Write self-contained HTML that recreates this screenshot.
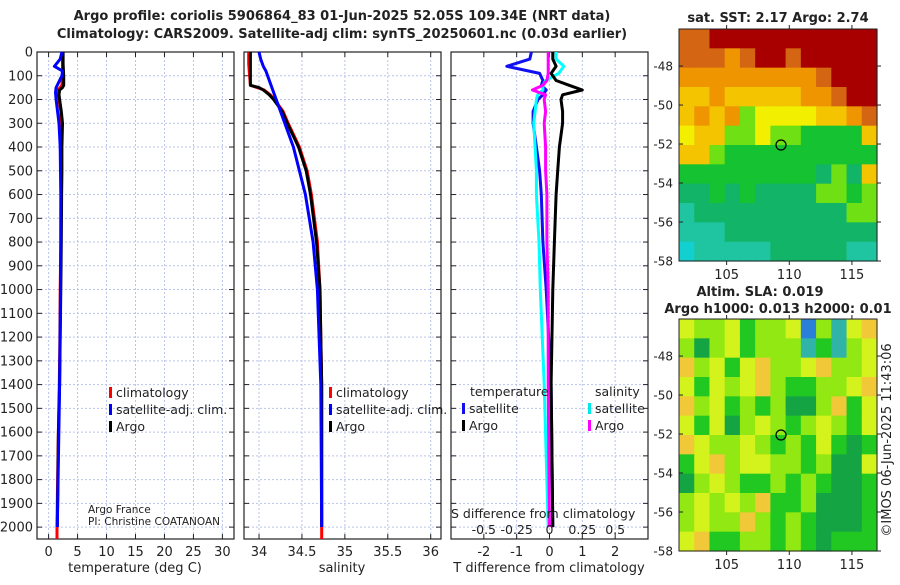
<!DOCTYPE html>
<html><head><meta charset="utf-8"><style>
body{margin:0;background:#fff;width:900px;height:580px;overflow:hidden}
svg{font-family:"DejaVu Sans","Liberation Sans",sans-serif}
text{fill:#222}
</style></head><body>
<svg id="s" width="900" height="580" viewBox="0 0 900 580">
<g id="g"></g>
</svg>
<script>
// ---- data ----
const depthTicks=[0,100,200,300,400,500,600,700,800,900,1000,1100,1200,1300,1400,1500,1600,1700,1800,1900,2000];
const tempTicks=[0,5,10,15,20,25,30];
const salTicks=[34,34.5,35,35.5,36];
const tdiffTicks=[-2,-1,0,1,2];
const sdiffTicks=[-0.5,-0.25,0,0.25,0.5];
const profDepth=[0,50,100,140,150,160,180,200,250,300,400,500,600,800,1000,1200,1400,1600,1800,2000];
const tempArgo=[2.5,2.5,2.6,2.6,2.4,1.9,1.8,1.9,2.2,2.4,2.3,2.3,2.25,2.2,2.1,2.0,1.9,1.7,1.6,1.5];
const tempClim=[2.4,2.4,2.4,2.3,2.0,1.6,1.6,1.8,2.1,2.2,2.2,2.2,2.15,2.1,2.0,1.95,1.85,1.7,1.55,1.45];
const satDepth=[0,30,60,80,100,150,170,200,300,400,600,800,1000,1400,2000];
const tempSat=[2.3,2.0,1.0,2.4,2.3,1.3,1.2,1.3,1.8,2.0,2.1,2.1,2.05,1.9,1.5];
const salArgo=[33.9,33.9,33.9,33.9,34.0,34.05,34.12,34.17,34.27,34.33,34.46,34.55,34.6,34.67,34.71,34.72,34.73,34.73,34.73,34.73];
const salClim=[33.88,33.88,33.89,33.9,33.98,34.06,34.13,34.18,34.28,34.34,34.47,34.56,34.61,34.68,34.71,34.72,34.73,34.73,34.73,34.73];
const salSat=[34.0,34.02,34.05,34.08,34.1,34.15,34.17,34.2,34.3,34.4,34.54,34.63,34.68,34.72,34.73];
const diffDepth=[0,30,60,90,120,140,160,180,200,250,300,400,500,600,800,1000,1400,2000];
const tdArgo=[0.1,0.1,0.2,0.05,0.2,0.6,1.0,0.4,0.35,0.4,0.4,0.3,0.25,0.2,0.15,0.1,0.05,0.1];
const tdSat=[-0.55,-0.6,-1.3,-0.3,-0.2,-0.25,-0.1,-0.2,-0.35,-0.5,-0.5,-0.4,-0.3,-0.25,-0.2,-0.1,0.05,0.1];
const sdSat=[0.05,0.05,0.11,0.07,-0.03,-0.05,-0.05,-0.09,-0.1,-0.11,-0.12,-0.11,-0.1,-0.1,-0.08,-0.07,-0.04,-0.01];
const sdArgo=[-0.01,-0.01,-0.01,-0.01,-0.02,-0.05,-0.13,-0.03,-0.04,-0.03,-0.04,-0.03,-0.03,-0.02,-0.02,-0.01,-0.01,0];
const latTicks=[-48,-50,-52,-54,-56,-58];
const lonTicks=[105,110,115];
const argoLat=-52.05, argoLon=109.34;
const sstPalette=['#12d0cf','#1fc4a0','#12b468','#14c232','#6ee014','#f2f000','#f4c400','#ef9500','#d46512','#a80000'];
const sstGrid=[
[8,8,9,9,9,9,9,9,9,9,9,9,9],
[8,8,8,7,8,9,9,8,9,9,9,9,9],
[7,7,7,7,7,7,7,7,7,8,9,9,9],
[6,6,7,6,6,6,6,6,7,7,8,9,9],
[6,7,6,7,4,5,5,5,5,6,6,7,8],
[5,6,6,4,4,5,4,4,3,3,3,3,6],
[6,6,4,3,3,3,3,3,3,3,3,3,3],
[3,3,3,3,3,3,3,3,3,2,4,2,6],
[2,2,3,2,3,2,2,2,2,4,4,3,4],
[1,2,2,2,2,2,2,2,2,2,2,4,4],
[1,1,1,2,2,2,2,2,2,2,2,2,2],
[0,1,1,1,1,1,2,2,2,2,2,1,1]];
const slaPalette=['#2a80d8','#30b4a8','#14a444','#22c822','#92e812','#d4f21c','#f0c838'];
const slaGrid=[
[5,4,4,5,3,4,4,5,0,4,1,5,6],
[4,2,4,5,3,4,4,4,1,3,1,4,5],
[6,4,5,3,5,6,4,4,5,6,4,4,5],
[5,3,5,4,5,6,4,3,3,4,4,5,6],
[6,4,5,3,4,3,4,2,2,4,6,3,5],
[5,3,5,2,4,5,4,3,4,5,4,3,5],
[6,5,4,4,5,4,3,4,3,5,3,2,3],
[3,5,6,4,5,5,4,4,3,4,2,2,5],
[2,4,5,4,3,3,4,3,4,3,2,2,3],
[4,5,4,5,4,6,3,3,4,2,2,2,3],
[4,5,4,4,6,4,3,4,3,2,2,2,3],
[5,6,3,3,4,4,3,4,3,2,3,3,3]];

// ---- helpers ----
const NS='http://www.w3.org/2000/svg';
const G=document.getElementById('g');
function el(t,a,p){const e=document.createElementNS(NS,t);for(const k in a)e.setAttribute(k,a[k]);(p||G).appendChild(e);return e;}
function txt(x,y,s,a){const e=el('text',Object.assign({x:x,y:y,'font-size':12},a||{}));e.textContent=s;return e;}
const Y0=52,Y1=539,D1=2050;
const yD=d=>Y0+d*(Y1-Y0)/D1;
function lin(d0,d1,p0,p1){return v=>p0+(v-d0)*(p1-p0)/(d1-d0);}
const panels=[{x0:37,x1:234,lo:-2,hi:32},{x0:244,x1:441,lo:33.825,hi:36.12},{x0:451,x1:648,lo:-3,hi:3}];
panels.forEach(p=>p.sx=lin(p.lo,p.hi,p.x0,p.x1));
const sdx=v=>panels[2].sx(v*4);

function frame(p,i,ticksX,labelLeft){
  const g=el('g',{});
  
  
  depthTicks.forEach(d=>{el('line',{x1:p.x0,x2:p.x1,y1:yD(d),y2:yD(d),stroke:'#b9c4ea','stroke-dasharray':'2,2','stroke-width':1},g);
    el('line',{x1:p.x0,x2:p.x0+5,y1:yD(d),y2:yD(d),stroke:'#222'},g);el('line',{x1:p.x1-5,x2:p.x1,y1:yD(d),y2:yD(d),stroke:'#222'},g);
    if(labelLeft){const t=txt(33,yD(d)+4.5,String(d),{'text-anchor':'end','font-size':13});}});
  ticksX.forEach(v=>{const x=p.sx(v);el('line',{x1:x,x2:x,y1:Y0,y2:Y1,stroke:'#b9c4ea','stroke-dasharray':'2,2'},g);
    el('line',{x1:x,x2:x,y1:Y1,y2:Y1-5,stroke:'#222'},g);el('line',{x1:x,x2:x,y1:Y0,y2:Y0+5,stroke:'#222'},g);
    const t=txt(x,556,String(v),{'text-anchor':'middle','font-size':13});});
  el('rect',{x:p.x0,y:Y0,width:p.x1-p.x0,height:Y1-Y0,fill:'none',stroke:'#222','stroke-width':1.2},g);
  return g;
}
frame(panels[0],0,tempTicks,true);
frame(panels[1],1,salTicks,false);
frame(panels[2],2,tdiffTicks,false);

function line(xs,ds,sx,col,name,w){
  const pts=xs.map((v,i)=>sx(v).toFixed(1)+','+yD(ds[i]).toFixed(1)).join(' ');
  const e=el('polyline',{points:pts,fill:'none',stroke:col,'stroke-width':w||3,'stroke-linejoin':'round'});
  
  
}
const s0=panels[0].sx,s1=panels[1].sx,s2=panels[2].sx;
line(tempClim,profDepth,s0,'#f00','temp-climatology-line');
line(tempArgo,profDepth,s0,'#000','temp-argo-line');
line(tempSat,satDepth,s0,'#00f','temp-satellite-line');
line(salClim,profDepth,s1,'#f00','sal-climatology-line');
line(salArgo,profDepth,s1,'#000','sal-argo-line');
line(salSat,satDepth,s1,'#00f','sal-satellite-line');
el('line',{x1:s0(1.45),x2:s0(1.45),y1:yD(2000),y2:Y1,stroke:'#f00','stroke-width':3});
el('line',{x1:s1(34.73),x2:s1(34.73),y1:yD(2000),y2:Y1,stroke:'#f00','stroke-width':3});
line(tdSat,diffDepth,s2,'#1010f0','tdiff-satellite-line');
line(sdSat,diffDepth,sdx,'#00ffff','sdiff-satellite-line');
line(tdArgo,diffDepth,s2,'#000','tdiff-argo-line');
line(sdArgo,diffDepth,sdx,'#ff00ff','sdiff-argo-line');

function leg(x,y,col,label,name){const g=el('g',{});
  el('rect',{x:x,y:y-10,width:3,height:11,fill:col},g);const t=txt(x+7,y,label,{'font-size':12.5});g.appendChild(t);}
leg(109,397,'#f00','climatology','legend-climatology');
leg(109,414,'#00f','satellite-adj. clim.','legend-satellite-adj');
leg(109,431,'#000','Argo','legend-argo');
leg(329,397,'#f00','climatology','legend-climatology-2');
leg(329,414,'#00f','satellite-adj. clim.','legend-satellite-adj-2');
leg(329,431,'#000','Argo','legend-argo-2');
txt(470,396,'temperature',{'font-size':12.5});
txt(595,396,'salinity',{'font-size':12.5});
leg(462,413,'#1010f0','satellite','legend-t-satellite');
leg(462,430,'#000','Argo','legend-t-argo');
leg(588,413,'#00e8e8','satellite','legend-s-satellite');
leg(588,430,'#f0f','Argo','legend-s-argo');
txt(88,513,'Argo France',{'font-size':10.5});
txt(88,525,'PI: Christine COATANOAN',{'font-size':10.5});
txt(451,518,'S difference from climatology',{'font-size':12.5});
sdiffTicks.forEach(v=>{const t=txt(sdx(v),534,String(v),{'text-anchor':'middle','font-size':12.5});});
txt(135,572,'temperature (deg C)',{'text-anchor':'middle','font-size':13});
txt(342,572,'salinity',{'text-anchor':'middle','font-size':13});
txt(549,572,'T difference from climatology',{'text-anchor':'middle','font-size':13});
txt(342,20,'Argo profile: coriolis 5906864_83 01-Jun-2025 52.05S 109.34E (NRT data)',{'text-anchor':'middle','font-size':13,'font-weight':'bold'});
txt(342,38,'Climatology: CARS2009. Satellite-adj clim: synTS_20250601.nc (0.03d earlier)',{'text-anchor':'middle','font-size':13,'font-weight':'bold'});

// ---- maps ----
function map(y0,grid,pal,name){
  const x0=679,x1=877,y1=y0+232;
  const lx=lin(101.2,117.0,x0,x1), ly=lin(-46.1,-58,y0,y1);
  const g=el('g',{});
  const rows=grid.length,cols=grid[0].length,cw=(x1-x0)/cols,rh=(y1-y0)/rows;
  grid.forEach((r,i)=>r.forEach((v,j)=>{el('rect',{x:x0+j*cw,y:y0+i*rh,width:cw+0.6,height:rh+0.6,fill:pal[v]},g);}));
  el('rect',{x:x0,y:y0,width:x1-x0,height:y1-y0,fill:'none',stroke:'#222'},g);
  latTicks.forEach(v=>{const y=ly(v);el('line',{x1:x0,x2:x0+4,y1:y,y2:y,stroke:'#222'},g);el('line',{x1:x1,x2:x1+4,y1:y,y2:y,stroke:'#222'},g);
    txt(673,y+4.5,String(v),{'text-anchor':'end','font-size':12});});
  lonTicks.forEach(v=>{const x=lx(v);el('line',{x1:x,x2:x,y1:y1,y2:y1+4,stroke:'#222'},g);el('line',{x1:x,x2:x,y1:y0-4,y2:y0,stroke:'#222'},g);
    txt(x,y1+18,String(v),{'text-anchor':'middle','font-size':13});});
  const c=el('circle',{cx:lx(argoLon),cy:ly(argoLat),r:5,fill:'none',stroke:'#000','stroke-width':1.2},g);
  
  
}
map(29,sstGrid,sstPalette,'sst-map');
map(319,slaGrid,slaPalette,'sla-map');
txt(778,22,'sat. SST: 2.17 Argo: 2.74',{'text-anchor':'middle','font-size':13,'font-weight':'bold'});
txt(760,296,'Altim. SLA: 0.019',{'text-anchor':'middle','font-size':13,'font-weight':'bold'});
txt(778,313,'Argo h1000: 0.013 h2000: 0.01',{'text-anchor':'middle','font-size':13,'font-weight':'bold'});
txt(0,0,'©IMOS 06-Jun-2025 11:43:06',{'text-anchor':'middle','font-size':13,transform:'translate(891,440) rotate(-90)'});
</script>
</body></html>
